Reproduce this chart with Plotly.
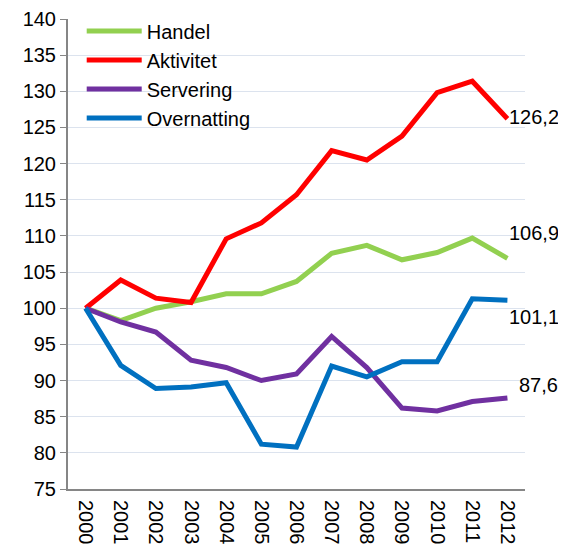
import plotly.graph_objects as go

years = [str(y) for y in range(2000, 2013)]
handel = [100, 98.3, 100.0, 100.9, 102.0, 102.0, 103.7, 107.6, 108.7, 106.7, 107.7, 109.7, 106.9]
aktivitet = [100, 103.9, 101.4, 100.8, 109.6, 111.8, 115.7, 121.8, 120.5, 123.8, 129.8, 131.4, 126.2]
servering = [100, 98.1, 96.7, 92.8, 91.8, 90.0, 90.9, 96.1, 91.8, 86.2, 85.8, 87.1, 87.6]
overnatting = [100, 92.1, 88.9, 89.1, 89.7, 81.2, 80.8, 92.0, 90.5, 92.6, 92.6, 101.3, 101.1]

series = [
    ("Handel", handel, "#92D050"),
    ("Aktivitet", aktivitet, "#FF0000"),
    ("Servering", servering, "#7030A0"),
    ("Overnatting", overnatting, "#0070C0"),
]
# end-label offsets (x px, y px)
label_offsets = {"Handel": (0, 25), "Aktivitet": (0, 2), "Servering": (10, 13), "Overnatting": (0, -17)}

FONT = "Liberation Sans, Arial, sans-serif"
FS = 20

fig = go.Figure()
for name, vals, col in series:
    fig.add_trace(go.Scatter(x=years, y=vals, mode="lines", name=name, legendgroup=name,
                             line=dict(color=col, width=5)))

for name, vals, col in series:
    dx, dy = label_offsets[name]
    fig.add_annotation(x=len(years) - 1, y=vals[-1], xref="x", yref="y",
                       text=f"{vals[-1]:.1f}".replace(".", ","),
                       showarrow=False, xanchor="left", yanchor="middle",
                       xshift=dx, yshift=dy, font=dict(size=FS, color="#000000", family=FONT))

fig.update_layout(
    width=566, height=548,
    margin=dict(l=60, r=49, t=11, b=67, autoexpand=False),
    paper_bgcolor="white", plot_bgcolor="white",
    font=dict(family=FONT, size=FS, color="#000000"),
    legend=dict(x=0.03, y=0.9935, yref="container", xanchor="left", yanchor="top",
                bgcolor="rgba(0,0,0,0)",
                font=dict(size=FS), itemwidth=55, tracegroupgap=0),
    xaxis=dict(type="category", range=[-0.5, 12.5], tickangle=90, showgrid=False,
               showline=True, linecolor="#868686", linewidth=2, ticks="",
               tickfont=dict(size=FS), automargin=False, ticklabelstandoff=5),
    yaxis=dict(range=[75, 140], dtick=5, showgrid=True, gridcolor="#DCE3EE", gridwidth=1,
               showline=True, linecolor="#868686", linewidth=2, ticks="outside",
               ticklen=6, tickcolor="#868686", tickfont=dict(size=FS), zeroline=False,
               automargin=False),
)

fig.write_html("out.html")
